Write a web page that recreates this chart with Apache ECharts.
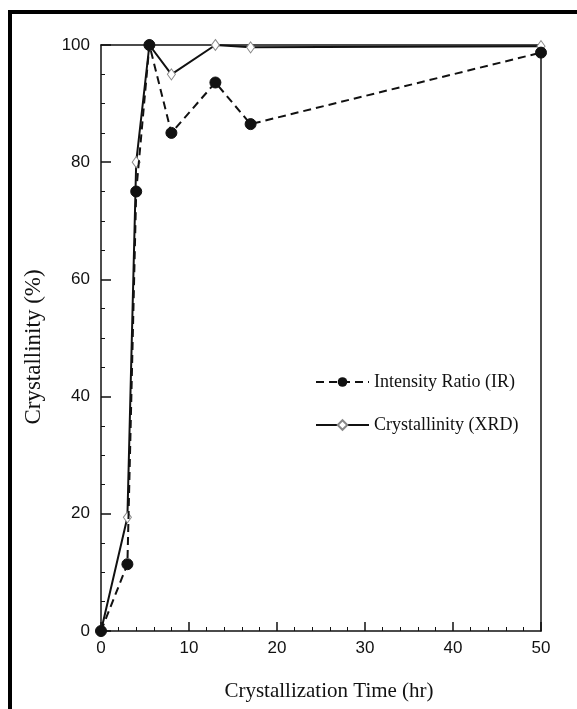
<!DOCTYPE html>
<html><head><meta charset="utf-8">
<script src="https://cdn.jsdelivr.net/npm/echarts@6/dist/echarts.min.js"></script>
<style>html,body{margin:0;padding:0;background:#fff}#c{width:577px;height:709px}</style>
</head><body><div id="c"></div>
<script>
const timeIR = [0, 3, 4, 5.5, 8, 13, 17, 50];
const valuesIR = [0, 11.4, 75, 100, 85, 93.6, 86.5, 98.7];
const timeXRD = [0, 3, 4, 5.5, 8, 13, 17, 50];
const valuesXRD = [0, 19.4, 80, 100, 95, 100, 99.6, 99.8];
const nameIR = 'Intensity Ratio (IR)';
const nameXRD = 'Crystallinity (XRD)';
const xTitle = 'Crystallization Time (hr)';
const yTitle = 'Crystallinity (%)';

const chart = echarts.init(document.getElementById('c'), null, {renderer: 'canvas'});
const pairs = (xs, ys) => xs.map((x, i) => [x, ys[i]]);
const tickFont = {fontFamily: 'Liberation Sans', fontSize: 17, color: '#111'};
chart.setOption({
  animation: false,
  backgroundColor: '#fff',
  grid: {left: 101, right: 36, top: 45, bottom: 78},
  legend: {
    orient: 'vertical', left: 310, top: 368, itemGap: 25, itemWidth: 53, itemHeight: 12,
    textStyle: {fontFamily: 'Liberation Serif', fontSize: 18, color: '#111'},
    data: [nameIR, nameXRD]
  },
  xAxis: [{
    type: 'value', min: 0, max: 50, interval: 10,
    name: xTitle, nameLocation: 'middle', nameGap: 50,
    nameTextStyle: {fontFamily: 'Liberation Serif', fontSize: 21, color: '#111', padding: [0, 0, 0, 16]},
    axisLine: {onZero: false, lineStyle: {color: '#111', width: 1.5}},
    axisTick: {inside: true, length: 9, lineStyle: {color: '#111', width: 1.5}},
    minorTick: {show: true, splitNumber: 5, length: 4, lineStyle: {color: '#111', width: 1}},
    axisLabel: Object.assign({margin: 9}, tickFont),
    splitLine: {show: false}
  }, {
    type: 'value', position: 'top', min: 0, max: 50,
    axisLine: {show: true, onZero: false, lineStyle: {color: '#111', width: 1.5}},
    axisTick: {show: false}, axisLabel: {show: false}, splitLine: {show: false}
  }],
  yAxis: [{
    type: 'value', min: 0, max: 100, interval: 20,
    name: yTitle, nameLocation: 'middle', nameGap: 56,
    nameTextStyle: {fontFamily: 'Liberation Serif', fontSize: 23, color: '#111', padding: [0, 18, 0, 0]},
    axisLine: {show: true, onZero: false, lineStyle: {color: '#111', width: 1.5}},
    axisTick: {inside: true, length: 10, lineStyle: {color: '#111', width: 1.5}},
    minorTick: {show: true, splitNumber: 4, length: 4, lineStyle: {color: '#111', width: 1}},
    axisLabel: Object.assign({margin: 11}, tickFont),
    splitLine: {show: false}
  }, {
    type: 'value', position: 'right', min: 0, max: 100,
    axisLine: {show: true, onZero: false, lineStyle: {color: '#111', width: 1.5}},
    axisTick: {show: false}, axisLabel: {show: false}, splitLine: {show: false}
  }],
  series: [{
    name: nameIR, type: 'line', data: pairs(timeIR, valuesIR),
    symbol: 'circle', symbolSize: 11, showAllSymbol: true,
    lineStyle: {color: '#111', width: 2, type: [8, 5]},
    itemStyle: {color: '#111', borderColor: '#111'}, z: 4
  }, {
    name: nameXRD, type: 'line', data: pairs(timeXRD, valuesXRD),
    symbol: 'diamond', symbolSize: [8, 11], showAllSymbol: true,
    lineStyle: {color: '#111', width: 2, type: 'solid'},
    itemStyle: {color: '#fff', borderColor: '#888', borderWidth: 1}, z: 3
  }],
  graphic: [{
    type: 'rect', shape: {x: 10, y: 12, width: 620, height: 760},
    style: {fill: 'none', stroke: '#000', lineWidth: 4}, silent: true
  }]
});
</script></body></html>
